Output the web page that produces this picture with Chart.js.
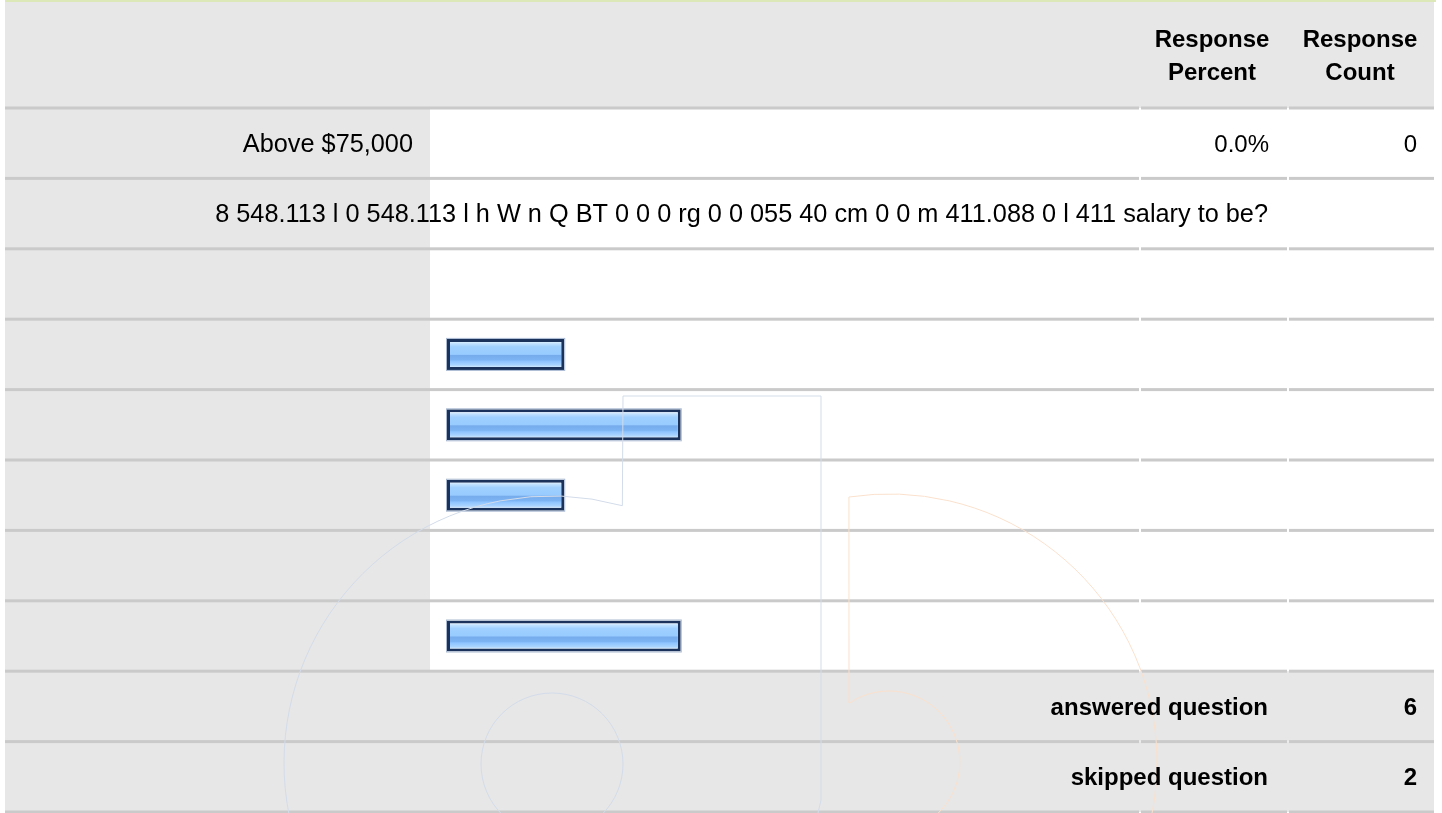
<!DOCTYPE html>
<html>
<head>
<meta charset="utf-8">
<title>Response summary</title>
<script src="https://cdn.jsdelivr.net/npm/chart.js@4"></script>
<style>
  html, body { margin: 0; padding: 0; background: #fff; }
  #chart { display: block; }
</style>
</head>
<body>
<canvas id="chart" width="1442" height="813"></canvas>
<script>
// table rows, top to bottom
const rowLabels = [
    'Above $75,000',
    '8 548.113 l 0 548.113 l h W n Q BT 0 0 0 rg 0 0 055 40 cm 0 0 m 411.088 0 l 411 salary to be?',
    '', '', '', '', '', '',
    'answered question',
    'skipped question'
];
const rowKind = ['option', 'question', 'option', 'option', 'option', 'option', 'option', 'option', 'summary', 'summary'];
const responsePercent = [0, null, 0, 16.7, 33.3, 16.7, 0, 33.3, null, null];
const percentText = ['0.0%', '', '', '', '', '', '', '', '', ''];
const countText = ['0', '', '', '', '', '', '', '', '6', '2'];
const headerText = [['Response', 'Percent'], ['Response', 'Count']];

const FONT = '"Liberation Sans", Arial, sans-serif';
const GREY = '#e7e7e7';
const RULE = '#cacaca';
const col = { left: 5, label: 430, bar: 1139, pctL: 1141, pct: 1287, cntL: 1289, right: 1434 };

function rowBounds(chart, i) {
    const y = chart.scales.y;
    const h = y.height / rowLabels.length;
    const c = y.getPixelForValue(i);
    return { top: c - h / 2, mid: c, bottom: c + h / 2 };
}

function barFill(ctx) {
    const chart = ctx.chart;
    const y = chart.scales.y;
    if (ctx.type === 'data' && !(ctx.raw > 0)) return 'rgba(0,0,0,0)';
    const c = (ctx.type === 'data' && y) ? y.getPixelForValue(ctx.dataIndex) : NaN;
    if (!Number.isFinite(c)) return '#9ccbff';
    const g = chart.ctx.createLinearGradient(0, c - 12.5, 0, c + 12.5);
    g.addColorStop(0.00, '#dcefff');
    g.addColorStop(0.08, '#bddfff');
    g.addColorStop(0.20, '#9fd0ff');
    g.addColorStop(0.50, '#98cbff');
    g.addColorStop(0.54, '#76abec');
    g.addColorStop(0.72, '#7cb4f3');
    g.addColorStop(0.78, '#8fc4ff');
    g.addColorStop(0.92, '#a8d3ff');
    g.addColorStop(1.00, '#cde6ff');
    return g;
}

const surveyTable = {
    id: 'surveyTable',
    beforeDatasetsDraw(chart) {
        const ctx = chart.ctx;
        ctx.save();
        // thin rule above the table
        ctx.fillStyle = '#dde8b8';
        ctx.fillRect(col.left, 0, col.right - col.left + 2, 2);

        // header band
        const first = rowBounds(chart, 0);
        ctx.fillStyle = GREY;
        ctx.fillRect(col.left, 2, col.right - col.left, first.top - 2);

        rowLabels.forEach((_, i) => {
            const r = rowBounds(chart, i);
            ctx.fillStyle = GREY;
            const w = rowKind[i] === 'summary' ? col.right - col.left : col.label - col.left;
            ctx.fillRect(col.left, r.top, w, r.bottom - r.top);
        });

        // row separators, broken at the numeric columns
        ctx.fillStyle = RULE;
        const edges = rowLabels.map((_, i) => rowBounds(chart, i).top);
        edges.push(rowBounds(chart, rowLabels.length - 1).bottom);
        edges.forEach(e => {
            ctx.fillRect(col.left, e - 1.5, col.bar - col.left, 3);
            ctx.fillRect(col.pctL, e - 1.5, col.pct - col.pctL, 3);
            ctx.fillRect(col.cntL, e - 1.5, col.right - col.cntL, 3);
        });
        ctx.restore();
    },
    afterDatasetsDraw(chart) {
        const ctx = chart.ctx;
        ctx.save();

        // pale rim around each bar
        ctx.strokeStyle = '#a9b9d2';
        ctx.lineWidth = 1;
        chart.getDatasetMeta(0).data.forEach((bar, i) => {
            if (!responsePercent[i]) return;
            const p = bar.getProps(['x', 'y', 'base', 'height'], true);
            ctx.strokeRect(p.base - 0.5, p.y - p.height / 2 - 0.5, p.x - p.base + 1, p.height + 1);
        });

        // faint logo watermark
        const rad = d => d * Math.PI / 180;
        ctx.lineWidth = 1;
        ctx.strokeStyle = '#d3dcea';
        ctx.beginPath();
        ctx.arc(551, 763, 267, rad(169), rad(285.5));
        ctx.lineTo(623, 396);
        ctx.lineTo(821, 396);
        ctx.lineTo(821, 800);
        ctx.lineTo(818, 813);
        ctx.stroke();
        ctx.beginPath();
        ctx.arc(552, 764, 71, 0, Math.PI * 2);
        ctx.stroke();

        ctx.strokeStyle = '#fbe1cd';
        ctx.beginPath();
        ctx.arc(889, 762, 268, rad(13), rad(261.4), true);
        ctx.lineTo(849, 703);
        ctx.arc(889, 762, 71, rad(236), rad(406));
        ctx.stroke();

        // header text
        ctx.fillStyle = '#000';
        ctx.font = 'bold 24px ' + FONT;
        ctx.textAlign = 'center';
        ctx.textBaseline = 'alphabetic';
        [1212, 1360].forEach((x, k) => {
            ctx.fillText(headerText[k][0], x, 47);
            ctx.fillText(headerText[k][1], x, 80);
        });

        // row text
        rowLabels.forEach((label, i) => {
            const r = rowBounds(chart, i);
            const base = r.mid + 8.5;
            const bold = rowKind[i] === 'summary';
            ctx.fillStyle = '#000';
            ctx.textAlign = 'right';
            if (label) {
                ctx.font = bold ? 'bold 24px ' + FONT : '25.3px ' + FONT;
                const x = rowKind[i] === 'option' ? col.label - 17 : col.pct - 19;
                ctx.fillText(label, x, base);
            }
            ctx.font = (bold ? 'bold ' : '') + '24px ' + FONT;
            if (percentText[i]) ctx.fillText(percentText[i], col.pct - 18, base);
            if (countText[i]) ctx.fillText(countText[i], col.right - 17, base);
        });
        ctx.restore();
    }
};

new Chart(document.getElementById('chart'), {
    type: 'bar',
    data: {
        labels: rowLabels,
        datasets: [{
            data: responsePercent,
            barThickness: 31,
            inflateAmount: 0,
            borderWidth: ctx => (ctx.raw > 0 ? 3 : 0),
            borderColor: '#1b335b',
            borderSkipped: false,
            backgroundColor: barFill
        }]
    },
    options: {
        indexAxis: 'y',
        responsive: false,
        animation: false,
        devicePixelRatio: 1,
        layout: { padding: { left: 447, right: 293, top: 108, bottom: 1 } },
        scales: {
            x: { display: false, min: 0, max: 100 },
            y: { display: false }
        },
        plugins: {
            legend: { display: false },
            tooltip: { enabled: false }
        }
    },
    plugins: [surveyTable]
});
</script>
</body>
</html>
